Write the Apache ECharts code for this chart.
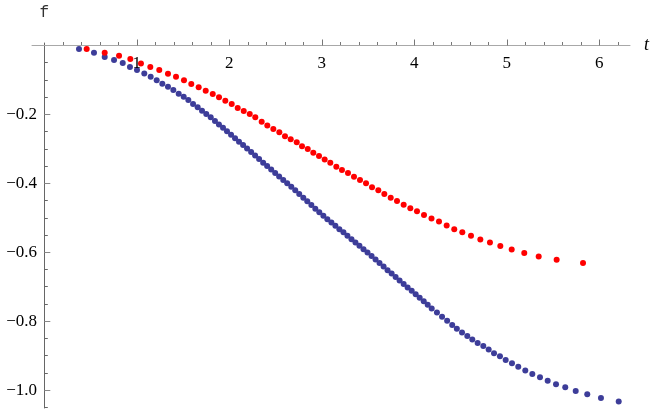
<!DOCTYPE html>
<html>
<head>
<meta charset="utf-8">
<script src="https://cdn.jsdelivr.net/npm/echarts@6.0.0/dist/echarts.min.js"></script>
<style>
html, body { margin: 0; padding: 0; background: #fff; }
#chart { width: 654px; height: 409px; }
</style>
</head>
<body>
<div id="chart"></div>
<script>
// blue series (t / f)
var blueT = [0.375, 0.537, 0.653, 0.754, 0.848, 0.926, 1.002, 1.081, 1.150, 1.215,
	1.276, 1.337, 1.395, 1.453, 1.507, 1.557, 1.608, 1.658, 1.705, 1.751,
	1.799, 1.845, 1.888, 1.932, 1.975, 2.019, 2.062, 2.105, 2.149, 2.192,
	2.236, 2.279, 2.322, 2.366, 2.409, 2.453, 2.496, 2.539, 2.583, 2.626,
	2.670, 2.713, 2.756, 2.800, 2.843, 2.887, 2.930, 2.973, 3.017, 3.060,
	3.104, 3.147, 3.190, 3.234, 3.277, 3.321, 3.364, 3.407, 3.451, 3.494,
	3.538, 3.581, 3.624, 3.668, 3.711, 3.755, 3.798, 3.841, 3.885, 3.928,
	3.972, 4.015, 4.058, 4.102, 4.145, 4.188, 4.245, 4.300, 4.355, 4.410,
	4.460, 4.516, 4.573, 4.627, 4.685, 4.746, 4.804, 4.862, 4.926, 4.988,
	5.056, 5.124, 5.200, 5.276, 5.359, 5.442, 5.532, 5.632, 5.745, 5.870,
	6.018, 6.210];
var blueF = [-0.010, -0.021, -0.033, -0.042, -0.051, -0.062, -0.071, -0.081, -0.091, -0.101,
	-0.111, -0.120, -0.129, -0.140, -0.149, -0.158, -0.170, -0.179, -0.189, -0.199,
	-0.208, -0.219, -0.229, -0.239, -0.249, -0.259, -0.269, -0.279, -0.289, -0.299,
	-0.309, -0.319, -0.329, -0.340, -0.350, -0.360, -0.370, -0.380, -0.390, -0.400,
	-0.410, -0.420, -0.431, -0.442, -0.452, -0.463, -0.474, -0.484, -0.494, -0.504,
	-0.514, -0.523, -0.533, -0.542, -0.552, -0.562, -0.572, -0.581, -0.591, -0.601,
	-0.611, -0.621, -0.631, -0.641, -0.652, -0.662, -0.672, -0.682, -0.692, -0.702,
	-0.712, -0.722, -0.732, -0.742, -0.752, -0.763, -0.775, -0.787, -0.799, -0.811,
	-0.822, -0.833, -0.843, -0.853, -0.863, -0.872, -0.882, -0.893, -0.902, -0.913,
	-0.922, -0.932, -0.943, -0.953, -0.963, -0.973, -0.983, -0.992, -1.003, -1.012,
	-1.023, -1.033];

// red series
var redT = [0.458, 0.653, 0.808, 0.930, 1.045, 1.146, 1.243, 1.337, 1.424, 1.510,
	1.589, 1.669, 1.745, 1.821, 1.889, 1.957, 2.026, 2.091, 2.156, 2.221,
	2.281, 2.350, 2.411, 2.476, 2.541, 2.602, 2.664, 2.729, 2.786, 2.848,
	2.908, 2.970, 3.031, 3.092, 3.157, 3.218, 3.283, 3.348, 3.413, 3.478,
	3.543, 3.611, 3.676, 3.745, 3.813, 3.885, 3.957, 4.029, 4.105, 4.186,
	4.267, 4.350, 4.432, 4.519, 4.613, 4.714, 4.818, 4.930, 5.053, 5.189,
	5.345, 5.539, 5.824];
var redF = [-0.010, -0.021, -0.030, -0.039, -0.052, -0.062, -0.071, -0.082, -0.091, -0.101,
	-0.112, -0.121, -0.131, -0.141, -0.150, -0.160, -0.170, -0.181, -0.190, -0.199,
	-0.208, -0.221, -0.232, -0.242, -0.252, -0.263, -0.272, -0.281, -0.292, -0.300,
	-0.311, -0.321, -0.331, -0.340, -0.352, -0.361, -0.370, -0.381, -0.390, -0.400,
	-0.411, -0.420, -0.431, -0.442, -0.451, -0.462, -0.472, -0.481, -0.492, -0.502,
	-0.511, -0.522, -0.533, -0.542, -0.552, -0.563, -0.572, -0.582, -0.592, -0.602,
	-0.612, -0.622, -0.631];

// ticks
var xMajorTicks = [1, 2, 3, 4, 5, 6];
var yMajorTicks = [-0.2, -0.4, -0.6, -0.8, -1.0];
var xMinorTicks = [];
for (var i = 1; i <= 31; i++) {
	if (i % 5 !== 0) xMinorTicks.push(Math.round(i * 20) / 100);
}
var yMinorTicks = [];
for (var j = 1; j <= 21; j++) {
	if (j % 4 !== 0) yMinorTicks.push(-Math.round(j * 5) / 100);
}

var xMin = -0.133, xMax = 6.332;
var yMin = -1.052, yMax = 0.0073;

function pairs(xs, ys) {
	var out = [];
	for (var k = 0; k < xs.length; k++) {
		out.push([xs[k], ys[k]]);
	}
	return out;
}

function fmtY(v) {
	return '\u2212' + Math.abs(v).toFixed(1);
}

var serifFont = '"Liberation Serif", "Times New Roman", Times, serif';

var chart = echarts.init(document.getElementById('chart'));
chart.setOption({
	animation: false,
	backgroundColor: '#fff',
	grid: {
		left: 32, right: 24, top: 43, bottom: 1,
		containLabel: false,
		outerBoundsMode: 'none'
	},
	// labels are laid out from the grid edge, not from the zero line
	xAxis: [{
		type: 'value', min: xMin, max: xMax, position: 'top',
		zlevel: 1, // own layer so the "1" label sits on top of the dots
		axisLine: { show: true, onZero: true, onZeroAxisIndex: 0, lineStyle: { color: '#a8a8a8', width: 1 } },
		axisTick: { show: true, inside: false, length: 6, customValues: xMajorTicks, lineStyle: { color: '#777' } },
		axisLabel: {
			show: true, inside: true, margin: 12, customValues: xMajorTicks,
			fontFamily: serifFont, fontSize: 17, color: '#000'
		},
		splitLine: { show: false },
		name: 't', nameLocation: 'end', nameGap: 14,
		nameTextStyle: { fontFamily: serifFont, fontStyle: 'italic', fontSize: 18, color: '#000' }
	}, {
		type: 'value', min: xMin, max: xMax, position: 'top',
		axisLine: { show: false, onZero: true, onZeroAxisIndex: 0 },
		axisTick: { show: true, inside: false, length: 3.5, customValues: xMinorTicks, lineStyle: { color: '#777' } },
		axisLabel: { show: false },
		splitLine: { show: false }
	}],
	yAxis: [{
		type: 'value', min: yMin, max: yMax, position: 'left',
		axisLine: { show: true, onZero: true, onZeroAxisIndex: 0, lineStyle: { color: '#666', width: 1 } },
		axisTick: { show: true, inside: true, length: 6, customValues: yMajorTicks, lineStyle: { color: '#888' } },
		axisLabel: {
			show: true, margin: -5, customValues: yMajorTicks, formatter: fmtY,
			fontFamily: serifFont, fontSize: 17, color: '#000'
		},
		splitLine: { show: false },
		name: 'f', nameLocation: 'end', nameGap: 22,
		nameTextStyle: { fontFamily: '"Liberation Mono", "Courier New", monospace', fontSize: 16, color: '#333' }
	}, {
		type: 'value', min: yMin, max: yMax, position: 'left',
		axisLine: { show: false, onZero: true, onZeroAxisIndex: 0 },
		axisTick: { show: true, inside: true, length: 3.5, customValues: yMinorTicks, lineStyle: { color: '#666' } },
		axisLabel: { show: false },
		splitLine: { show: false }
	}],
	series: [{
		name: 'blue', type: 'scatter', xAxisIndex: 0, yAxisIndex: 0,
		data: pairs(blueT, blueF),
		symbol: 'circle', symbolSize: 6,
		itemStyle: { color: '#3d3d99', opacity: 1 },
		silent: true
	}, {
		name: 'red', type: 'scatter', xAxisIndex: 0, yAxisIndex: 0,
		data: pairs(redT, redF),
		symbol: 'circle', symbolSize: 6,
		itemStyle: { color: '#ff0000', opacity: 1 },
		silent: true
	}]
});
</script>
</body>
</html>
